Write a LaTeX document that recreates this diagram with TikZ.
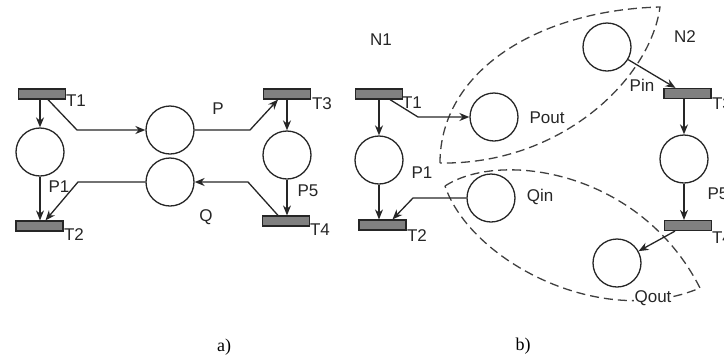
\documentclass[tikz,border=0pt]{standalone}
\usepackage{fontspec}
\setmainfont{Liberation Sans}
\newfontfamily\capfont{Liberation Serif}
\usetikzlibrary{arrows.meta}
\begin{document}
\begin{tikzpicture}[x=1pt,y=-1pt,
  place/.style={circle,draw=black!85,line width=1.3pt,minimum size=48pt,inner sep=0pt},
  trans/.style={rectangle,draw=black!85,line width=1.2pt,fill={rgb,255:red,128;green,128;blue,128},minimum width=47pt,minimum height=10pt,inner sep=0pt},
  lbl/.style={font=\fontsize{17}{19}\selectfont,inner sep=0pt,text=black!85},
  captext/.style={font=\capfont\fontsize{18}{20}\selectfont,inner sep=0pt},
  arr/.style={draw=black!85,line width=1.3pt,-{Stealth[length=10pt,width=8pt]}},
  lens/.style={draw=black!75,line width=1.3pt,dash pattern=on 9pt off 5pt}]
\useasboundingbox (0,0) rectangle (724,360);
% ---------- a) ----------
\node[trans] (aT1) at (42,94) {};
\node[place] (aP1) at (40,152) {};
\node[trans] (aT2) at (39.5,226) {};
\node[place] (aP) at (170,130) {};
\node[place] (aQ) at (170,182) {};
\node[trans] (aT3) at (287,94) {};
\node[place] (aP5) at (287,155) {};
\node[trans] (aT4) at (286,221) {};
\node[lbl] (laT1) at (76,101) {T1};
\node[lbl] (laT2) at (74,235) {T2};
\node[lbl] (laT3) at (322,104) {T3};
\node[lbl] (laT4) at (320,230) {T4};
\node[lbl] (laP1) at (59,187) {P1};
\node[lbl] (laP) at (218,109) {P};
\node[lbl] (laQ) at (206,217) {Q};
\node[lbl] (laP5) at (308,191) {P5};
\draw[arr] (aP1.north |- aT1.south) -- (aP1.north);
\draw[arr] (aP1.south) -- (aP1.south |- aT2.north);
\draw[arr] ([xshift=6pt]aT1.south) -- (77,130) -- (aP.west);
\draw[arr] (aQ.west) -- (78,182) -- ([xshift=6pt]aT2.north);
\draw[arr] (aP.east) -- (250,130) -- ([xshift=-9pt]aT3.south);
\draw[arr] (aT3.south) -- (aP5.north);
\draw[arr] (aP5.south) -- (aP5.south |- aT4.north);
\draw[arr] ([xshift=-8pt]aT4.north) -- (248,182) -- (aQ.east);
\node[captext] (capa) at (224,347) {a)};
% ---------- b) ----------
\draw[lens] (440,163) .. controls (440,70) and (540,10) .. (660,7)
            .. controls (650,80) and (560,165) .. (440,163);
\draw[lens] (445,186) .. controls (500,150) and (640,170) .. (700,288)
            .. controls (600,330) and (470,260) .. (445,186);
\node[lbl] (lN1) at (381,40) {N1};
\node[lbl] (lN2) at (685,37) {N2};
\node[trans] (bT1) at (379,94) {};
\node[place] (bP1) at (379,160) {};
\node[trans] (bT2) at (382.5,225) {};
\node[place] (bPout) at (494,117) {};
\node[place] (bQin) at (491,198) {};
\node[place] (bPin) at (607,47) {};
\node[trans] (bT3) at (687.5,93.5) {};
\node[place] (bP5) at (684,159) {};
\node[trans] (bT4) at (688,225.5) {};
\node[place] (bQout) at (617,263) {};
\node[lbl] (lbT1) at (412,103) {T1};
\node[lbl] (lbP1) at (422,173) {P1};
\node[lbl] (lbT2) at (417,236) {T2};
\node[lbl] (lbPout) at (547,118) {Pout};
\node[lbl] (lbQin) at (540,197) {Qin};
\node[lbl] (lbPin) at (642,85) {Pin};
\node[lbl] (lbT3) at (722,104) {T3};
\node[lbl] (lbP5) at (718,194) {P5};
\node[lbl] (lbT4) at (722,238) {T4};
\node[lbl,fill=white,inner sep=1pt] (lbQout) at (653,298) {Qout};
\draw[arr] (bP1.north |- bT1.south) -- (bP1.north);
\draw[arr] (bP1.south) -- (bP1.south |- bT2.north);
\draw[arr] ([xshift=11pt]bT1.south) -- (418,117) -- (bPout.west);
\draw[arr] (bQin.west) -- (413,198) -- ([xshift=10pt]bT2.north);
\draw[arr] (bPin) -- ([xshift=-12pt]bT3.north);
\draw[arr] (bP5.north |- bT3.south) -- (bP5.north);
\draw[arr] (bP5.south) -- (bP5.south |- bT4.north);
\draw[arr] ([xshift=-13pt]bT4.south) -- (bQout);
\node[captext] (capb) at (523,346) {b)};
\end{tikzpicture}
\end{document}
